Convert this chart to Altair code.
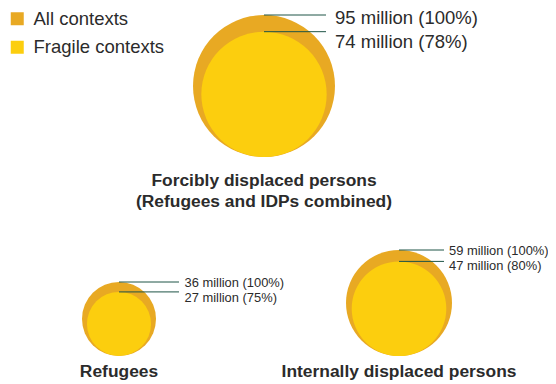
import altair as alt
import pandas as pd
import numpy as np

# ---- data ----
groups = ["Forcibly displaced persons", "Refugees", "Internally displaced persons"]
title_lines = [["Forcibly displaced persons", "(Refugees and IDPs combined)"],
               ["Refugees"], ["Internally displaced persons"]]
all_millions = [95, 36, 59]
fragile_millions = [74, 27, 47]
fragile_pct = [78, 75, 80]
series = ["All contexts", "Fragile contexts"]

# ---- layout (page pixel positions) ----
cx = [264, 119, 399]
cy = [86, 319, 303]
outer_r = [71, 37, 53]
line_end = [326, 179, 444]
label_x = [335, 184.5, 449]
label_dy1 = [2.5, 1, 1]
label_dy2 = [27, 15.5, 16]
label_size = [18.5, 12.9, 12.9]
title_y = [181, 372, 372]

OUTER = "#E8A923"
INNER = "#FCCE0E"
LINE = "#1E5446"
TXT = "#2B2B2B"

circ_rows, line_rows, lab_rows, title_rows = [], [], [], []
for i, g in enumerate(groups):
    R = outer_r[i]
    r = R * np.sqrt(fragile_millions[i] / all_millions[i])
    bottom = cy[i] + R
    circ_rows.append(dict(series=series[0], x=cx[i], y=cy[i], size=4 * R * R, o=0))
    circ_rows.append(dict(series=series[1], x=cx[i], y=bottom - r, size=4 * r * r, o=1))
    y_out = cy[i] - R
    y_in = bottom - 2 * r
    line_rows.append(dict(x=cx[i], x2=line_end[i], y=y_out))
    line_rows.append(dict(x=cx[i], x2=line_end[i], y=y_in))
    lab_rows.append(dict(x=label_x[i], y=y_out + label_dy1[i], fs=label_size[i],
                         t=f"{all_millions[i]} million (100%)"))
    lab_rows.append(dict(x=label_x[i], y=y_out + label_dy2[i], fs=label_size[i],
                         t=f"{fragile_millions[i]} million ({fragile_pct[i]}%)"))
    for j, t in enumerate(title_lines[i]):
        title_rows.append(dict(x=cx[i], y=title_y[i] + 21 * j, t=t))

circ = pd.DataFrame(circ_rows)
lines = pd.DataFrame(line_rows)
labs = pd.DataFrame(lab_rows)
titles = pd.DataFrame(title_rows)

xs = alt.Scale(domain=[8, 540])
ys = alt.Scale(domain=[16, 376], reverse=True)

circles = alt.Chart(circ).mark_circle(opacity=1, strokeWidth=0).encode(
    x=alt.X("x:Q", scale=xs, axis=None),
    y=alt.Y("y:Q", scale=ys, axis=None),
    size=alt.Size("size:Q", scale=None),
    color=alt.Color("series:N", scale=alt.Scale(domain=series, range=[OUTER, INNER]),
                    legend=alt.Legend(title=None, orient="none", legendX=0, legendY=-6.5,
                                      symbolType="square", symbolSize=169,
                                      symbolStrokeWidth=0, symbolOpacity=1,
                                      labelFontSize=18.5, labelFont="Liberation Sans",
                                      labelColor=TXT, labelOffset=7, rowPadding=9.5,
                                      padding=0, offset=0)),
    order=alt.Order("o:Q"),
)

rules = alt.Chart(lines).mark_rule(color=LINE, strokeWidth=1).encode(
    x=alt.X("x:Q", scale=xs), x2="x2:Q", y=alt.Y("y:Q", scale=ys),
)

labels = alt.Chart(labs).mark_text(align="left", baseline="middle",
                                   font="Liberation Sans", color=TXT).encode(
    x=alt.X("x:Q", scale=xs), y=alt.Y("y:Q", scale=ys), text="t:N",
    size=alt.Size("fs:Q", scale=None),
)

tit = alt.Chart(titles).mark_text(align="center", baseline="middle", fontSize=17.4,
                                  fontWeight="bold", font="Liberation Sans",
                                  color=TXT).encode(
    x=alt.X("x:Q", scale=xs), y=alt.Y("y:Q", scale=ys), text="t:N",
)

chart = alt.layer(circles, rules, labels, tit).properties(
    width=532, height=360, autosize=alt.AutoSizeParams(type="none"),
    padding={"left": 0, "top": 8, "right": 8, "bottom": 8},
).configure_view(stroke=None)

chart.save("out.html", embed_options={"renderer": "svg", "actions": False})
